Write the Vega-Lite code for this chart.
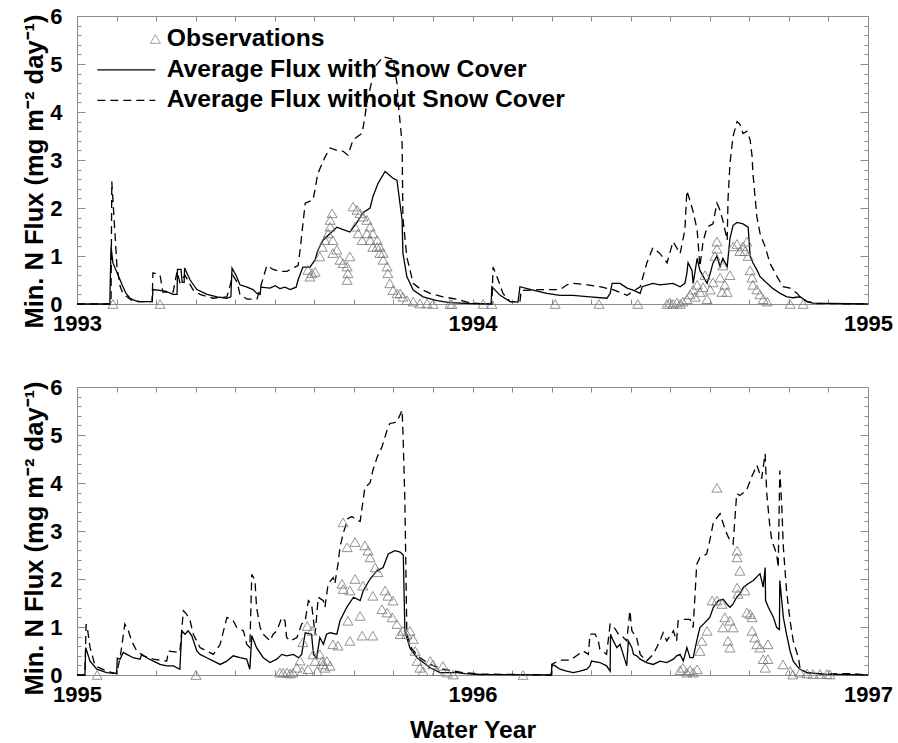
{
"$schema": "https://vega.github.io/schema/vega-lite/v6.json",
"background": "white",
"padding": {"left": 22, "top": 5, "right": 5, "bottom": 0},
"config": {
 "view": {"stroke": null},
 "font": "Liberation Sans",
 "axis": {"grid": false, "domainColor": "#8c8c8c", "tickColor": "#8c8c8c", "domainWidth": 1, "tickWidth": 1,
  "labelFont": "Liberation Sans", "labelFontWeight": "bold", "labelFontSize": 22, "labelColor": "black",
  "titleFont": "Liberation Sans", "titleFontWeight": "bold", "titleFontSize": 24.7, "titleColor": "black",
  "labelFlush": false, "labelOverlap": false, "tickCount": 100}
},
"datasets": {
 "top_with": [
  {"t":1993.000,"v":0},{"t":1993.083,"v":0},{"t":1993.086,"v":1.2},{"t":1993.091,"v":0.85},{"t":1993.104,"v":0.6},{"t":1993.114,"v":0.4},{"t":1993.124,"v":0.22},{"t":1993.134,"v":0.12},{"t":1993.147,"v":0.07},{"t":1993.159,"v":0.05},{"t":1993.190,"v":0.05},{"t":1993.192,"v":0.3},{"t":1993.223,"v":0.27},{"t":1993.243,"v":0.2},{"t":1993.253,"v":0.2},{"t":1993.254,"v":0.72},{"t":1993.263,"v":0.72},{"t":1993.266,"v":0.45},{"t":1993.271,"v":0.45},{"t":1993.272,"v":0.75},{"t":1993.286,"v":0.5},{"t":1993.303,"v":0.3},{"t":1993.329,"v":0.2},{"t":1993.354,"v":0.15},{"t":1993.379,"v":0.12},{"t":1993.389,"v":0.15},{"t":1993.392,"v":0.75},{"t":1993.402,"v":0.6},{"t":1993.412,"v":0.4},{"t":1993.430,"v":0.35},{"t":1993.445,"v":0.3},{"t":1993.455,"v":0.22},{"t":1993.463,"v":0.2},{"t":1993.465,"v":0.35},{"t":1993.488,"v":0.33},{"t":1993.501,"v":0.38},{"t":1993.513,"v":0.32},{"t":1993.526,"v":0.35},{"t":1993.539,"v":0.3},{"t":1993.554,"v":0.35},{"t":1993.559,"v":0.5},{"t":1993.571,"v":0.77},{"t":1993.589,"v":0.77},{"t":1993.602,"v":0.92},{"t":1993.609,"v":1.12},{"t":1993.622,"v":1.33},{"t":1993.640,"v":1.47},{"t":1993.657,"v":1.6},{"t":1993.673,"v":1.55},{"t":1993.690,"v":1.5},{"t":1993.708,"v":1.7},{"t":1993.723,"v":1.9},{"t":1993.741,"v":2.0},{"t":1993.748,"v":2.23},{"t":1993.761,"v":2.51},{"t":1993.779,"v":2.76},{"t":1993.799,"v":2.62},{"t":1993.809,"v":2.58},{"t":1993.822,"v":1.75},{"t":1993.824,"v":1.06},{"t":1993.834,"v":0.57},{"t":1993.850,"v":0.29},{"t":1993.875,"v":0.15},{"t":1993.910,"v":0.07},{"t":1993.943,"v":0.03},{"t":1993.994,"v":0.01},{"t":1994.047,"v":0},{"t":1994.049,"v":0.36},{"t":1994.070,"v":0.18},{"t":1994.095,"v":0.05},{"t":1994.115,"v":0.04},{"t":1994.120,"v":0.36},{"t":1994.153,"v":0.29},{"t":1994.188,"v":0.22},{"t":1994.221,"v":0.18},{"t":1994.254,"v":0.18},{"t":1994.297,"v":0.15},{"t":1994.340,"v":0.12},{"t":1994.348,"v":0.22},{"t":1994.353,"v":0.43},{"t":1994.373,"v":0.43},{"t":1994.391,"v":0.33},{"t":1994.406,"v":0.29},{"t":1994.424,"v":0.22},{"t":1994.429,"v":0.36},{"t":1994.456,"v":0.43},{"t":1994.474,"v":0.4},{"t":1994.507,"v":0.43},{"t":1994.525,"v":0.36},{"t":1994.537,"v":0.43},{"t":1994.542,"v":0.64},{"t":1994.545,"v":0.86},{"t":1994.555,"v":0.7},{"t":1994.558,"v":0.43},{"t":1994.568,"v":0.95},{"t":1994.575,"v":0.7},{"t":1994.593,"v":0.43},{"t":1994.601,"v":0.64},{"t":1994.608,"v":0.85},{"t":1994.618,"v":1.0},{"t":1994.626,"v":0.78},{"t":1994.633,"v":0.95},{"t":1994.644,"v":0.78},{"t":1994.651,"v":1.37},{"t":1994.659,"v":1.64},{"t":1994.669,"v":1.7},{"t":1994.684,"v":1.67},{"t":1994.697,"v":1.6},{"t":1994.702,"v":1.0},{"t":1994.709,"v":0.86},{"t":1994.719,"v":0.71},{"t":1994.727,"v":0.57},{"t":1994.745,"v":0.43},{"t":1994.760,"v":0.32},{"t":1994.778,"v":0.22},{"t":1994.795,"v":0.15},{"t":1994.810,"v":0.13},{"t":1994.828,"v":0.15},{"t":1994.846,"v":0.05},{"t":1994.861,"v":0.02},{"t":1995.000,"v":0}
 ],
 "top_without": [
  {"t":1993.000,"v":0},{"t":1993.086,"v":0},{"t":1993.088,"v":2.55},{"t":1993.096,"v":1.47},{"t":1993.101,"v":0.78},{"t":1993.109,"v":0.37},{"t":1993.116,"v":0.22},{"t":1993.126,"v":0.15},{"t":1993.142,"v":0.05},{"t":1993.190,"v":0.05},{"t":1993.192,"v":0.65},{"t":1993.210,"v":0.6},{"t":1993.217,"v":0.25},{"t":1993.243,"v":0.25},{"t":1993.253,"v":0.68},{"t":1993.260,"v":0.45},{"t":1993.273,"v":0.6},{"t":1993.293,"v":0.3},{"t":1993.311,"v":0.2},{"t":1993.344,"v":0.12},{"t":1993.379,"v":0.15},{"t":1993.394,"v":0.6},{"t":1993.405,"v":0.45},{"t":1993.412,"v":0.2},{"t":1993.430,"v":0.1},{"t":1993.455,"v":0.1},{"t":1993.480,"v":0.8},{"t":1993.496,"v":0.72},{"t":1993.513,"v":0.68},{"t":1993.531,"v":0.68},{"t":1993.546,"v":0.75},{"t":1993.559,"v":0.8},{"t":1993.564,"v":1.12},{"t":1993.569,"v":1.5},{"t":1993.577,"v":2.1},{"t":1993.597,"v":2.17},{"t":1993.609,"v":2.72},{"t":1993.627,"v":3.06},{"t":1993.640,"v":3.25},{"t":1993.657,"v":3.2},{"t":1993.673,"v":3.18},{"t":1993.685,"v":3.1},{"t":1993.698,"v":3.42},{"t":1993.721,"v":3.56},{"t":1993.728,"v":3.9},{"t":1993.733,"v":4.2},{"t":1993.754,"v":4.95},{"t":1993.774,"v":5.15},{"t":1993.799,"v":5.1},{"t":1993.809,"v":4.6},{"t":1993.812,"v":4.2},{"t":1993.822,"v":3.35},{"t":1993.824,"v":1.8},{"t":1993.834,"v":0.98},{"t":1993.850,"v":0.43},{"t":1993.867,"v":0.32},{"t":1993.893,"v":0.22},{"t":1993.925,"v":0.15},{"t":1993.961,"v":0.1},{"t":1993.994,"v":0.02},{"t":1994.049,"v":0},{"t":1994.052,"v":0.77},{"t":1994.065,"v":0.5},{"t":1994.077,"v":0.22},{"t":1994.095,"v":0.05},{"t":1994.120,"v":0.05},{"t":1994.123,"v":0.28},{"t":1994.171,"v":0.3},{"t":1994.221,"v":0.3},{"t":1994.239,"v":0.4},{"t":1994.254,"v":0.43},{"t":1994.290,"v":0.4},{"t":1994.322,"v":0.36},{"t":1994.355,"v":0.3},{"t":1994.391,"v":0.18},{"t":1994.424,"v":0.36},{"t":1994.441,"v":0.86},{"t":1994.456,"v":1.17},{"t":1994.474,"v":1.05},{"t":1994.492,"v":0.86},{"t":1994.507,"v":1.3},{"t":1994.525,"v":1.05},{"t":1994.537,"v":1.54},{"t":1994.542,"v":2.36},{"t":1994.550,"v":2.15},{"t":1994.558,"v":1.92},{"t":1994.568,"v":1.54},{"t":1994.575,"v":0.78},{"t":1994.583,"v":1.3},{"t":1994.593,"v":1.6},{"t":1994.608,"v":1.67},{"t":1994.618,"v":2.1},{"t":1994.626,"v":1.95},{"t":1994.633,"v":1.74},{"t":1994.644,"v":1.33},{"t":1994.646,"v":2.17},{"t":1994.651,"v":2.93},{"t":1994.659,"v":3.5},{"t":1994.669,"v":3.8},{"t":1994.676,"v":3.75},{"t":1994.684,"v":3.55},{"t":1994.694,"v":3.6},{"t":1994.702,"v":3.42},{"t":1994.707,"v":3.07},{"t":1994.709,"v":2.73},{"t":1994.719,"v":1.82},{"t":1994.727,"v":1.47},{"t":1994.740,"v":1.19},{"t":1994.752,"v":0.85},{"t":1994.770,"v":0.57},{"t":1994.785,"v":0.36},{"t":1994.803,"v":0.33},{"t":1994.821,"v":0.22},{"t":1994.828,"v":0.15},{"t":1994.846,"v":0.05},{"t":1994.871,"v":0.01},{"t":1995.000,"v":0}
 ],
 "top_obs": [
  {"t":1993.091,"v":0},{"t":1993.210,"v":0},{"t":1993.584,"v":0.71},{"t":1993.589,"v":0.57},{"t":1993.594,"v":0.64},{"t":1993.602,"v":0.67},{"t":1993.614,"v":0.99},{"t":1993.620,"v":1.19},{"t":1993.627,"v":1.33},{"t":1993.635,"v":1.47},{"t":1993.640,"v":1.75},{"t":1993.640,"v":1.61},{"t":1993.645,"v":1.89},{"t":1993.647,"v":1.33},{"t":1993.647,"v":1.06},{"t":1993.657,"v":1.13},{"t":1993.665,"v":0.92},{"t":1993.673,"v":0.85},{"t":1993.683,"v":0.78},{"t":1993.683,"v":0.5},{"t":1993.685,"v":0.64},{"t":1993.690,"v":0.99},{"t":1993.698,"v":2.03},{"t":1993.703,"v":1.61},{"t":1993.708,"v":1.96},{"t":1993.711,"v":1.47},{"t":1993.716,"v":1.89},{"t":1993.721,"v":1.33},{"t":1993.723,"v":1.82},{"t":1993.733,"v":1.75},{"t":1993.733,"v":1.47},{"t":1993.741,"v":1.61},{"t":1993.741,"v":1.33},{"t":1993.748,"v":1.47},{"t":1993.748,"v":1.19},{"t":1993.759,"v":1.33},{"t":1993.759,"v":1.19},{"t":1993.766,"v":1.19},{"t":1993.766,"v":1.06},{"t":1993.774,"v":1.06},{"t":1993.774,"v":0.92},{"t":1993.784,"v":0.78},{"t":1993.786,"v":0.64},{"t":1993.791,"v":0.43},{"t":1993.799,"v":0.29},{"t":1993.809,"v":0.22},{"t":1993.817,"v":0.22},{"t":1993.824,"v":0.15},{"t":1993.834,"v":0.08},{"t":1993.850,"v":0.05},{"t":1993.867,"v":0.01},{"t":1993.885,"v":0.01},{"t":1993.900,"v":0},{"t":1993.943,"v":0},
  {"t":1993.948,"v":0},{"t":1994.027,"v":0},{"t":1994.049,"v":0},{"t":1994.209,"v":0},{"t":1994.320,"v":0},{"t":1994.418,"v":0},{"t":1994.492,"v":0},{"t":1994.499,"v":0.03},{"t":1994.507,"v":0},{"t":1994.517,"v":0.03},{"t":1994.525,"v":0},{"t":1994.532,"v":0.05},{"t":1994.542,"v":0.1},{"t":1994.550,"v":0.2},{"t":1994.558,"v":0.3},{"t":1994.563,"v":0.15},{"t":1994.568,"v":0.4},{"t":1994.575,"v":0.25},{"t":1994.583,"v":0.35},{"t":1994.588,"v":0.6},{"t":1994.593,"v":0.1},{"t":1994.601,"v":0.3},{"t":1994.608,"v":0.45},{"t":1994.613,"v":1.0},{"t":1994.618,"v":1.3},{"t":1994.618,"v":1.15},{"t":1994.626,"v":0.55},{"t":1994.631,"v":0.25},{"t":1994.633,"v":0.8},{"t":1994.638,"v":0.4},{"t":1994.644,"v":0.25},{"t":1994.651,"v":0.6},{"t":1994.659,"v":1.2},{"t":1994.669,"v":1.25},{"t":1994.676,"v":1.1},{"t":1994.684,"v":1.2},{"t":1994.689,"v":1.1},{"t":1994.694,"v":1.3},{"t":1994.697,"v":1.0},{"t":1994.702,"v":0.7},{"t":1994.707,"v":0.55},{"t":1994.709,"v":0.4},{"t":1994.719,"v":0.3},{"t":1994.727,"v":0.2},{"t":1994.735,"v":0.1},{"t":1994.745,"v":0.05},{"t":1994.803,"v":0},{"t":1994.836,"v":0}
 ],
 "bot_with": [
  {"t":1995.000,"v":0},{"t":1995.020,"v":0},{"t":1995.022,"v":0.57},{"t":1995.033,"v":0.29},{"t":1995.050,"v":0.12},{"t":1995.075,"v":0.05},{"t":1995.100,"v":0.03},{"t":1995.102,"v":0.35},{"t":1995.109,"v":0.33},{"t":1995.117,"v":0.47},{"t":1995.126,"v":0.43},{"t":1995.142,"v":0.36},{"t":1995.159,"v":0.33},{"t":1995.164,"v":0.43},{"t":1995.176,"v":0.36},{"t":1995.193,"v":0.29},{"t":1995.210,"v":0.22},{"t":1995.227,"v":0.19},{"t":1995.244,"v":0.19},{"t":1995.260,"v":0.12},{"t":1995.265,"v":0.92},{"t":1995.273,"v":0.85},{"t":1995.281,"v":0.92},{"t":1995.290,"v":0.82},{"t":1995.303,"v":0.5},{"t":1995.311,"v":0.43},{"t":1995.328,"v":0.36},{"t":1995.345,"v":0.29},{"t":1995.362,"v":0.22},{"t":1995.379,"v":0.29},{"t":1995.395,"v":0.4},{"t":1995.412,"v":0.36},{"t":1995.429,"v":0.33},{"t":1995.437,"v":0.12},{"t":1995.442,"v":0.82},{"t":1995.454,"v":0.57},{"t":1995.471,"v":0.36},{"t":1995.488,"v":0.26},{"t":1995.505,"v":0.33},{"t":1995.518,"v":0.43},{"t":1995.530,"v":0.4},{"t":1995.547,"v":0.43},{"t":1995.560,"v":0.36},{"t":1995.568,"v":0.43},{"t":1995.577,"v":0.88},{"t":1995.593,"v":0.85},{"t":1995.598,"v":0.43},{"t":1995.606,"v":0.36},{"t":1995.614,"v":0.78},{"t":1995.623,"v":0.64},{"t":1995.631,"v":0.85},{"t":1995.640,"v":0.88},{"t":1995.657,"v":0.85},{"t":1995.665,"v":1.13},{"t":1995.682,"v":1.41},{"t":1995.699,"v":1.62},{"t":1995.716,"v":1.55},{"t":1995.724,"v":1.76},{"t":1995.741,"v":2.0},{"t":1995.758,"v":2.17},{"t":1995.774,"v":2.24},{"t":1995.787,"v":2.52},{"t":1995.804,"v":2.59},{"t":1995.817,"v":2.56},{"t":1995.825,"v":2.5},{"t":1995.829,"v":0.92},{"t":1995.842,"v":0.56},{"t":1995.860,"v":0.36},{"t":1995.893,"v":0.15},{"t":1995.918,"v":0.05},{"t":1995.961,"v":0.05},{"t":1995.981,"v":0.03},{"t":1996.019,"v":0.01},{"t":1996.199,"v":0},{"t":1996.201,"v":0.22},{"t":1996.209,"v":0.19},{"t":1996.221,"v":0.12},{"t":1996.238,"v":0.08},{"t":1996.255,"v":0.05},{"t":1996.272,"v":0.08},{"t":1996.289,"v":0.12},{"t":1996.297,"v":0.19},{"t":1996.301,"v":0.29},{"t":1996.322,"v":0.26},{"t":1996.339,"v":0.19},{"t":1996.348,"v":0.08},{"t":1996.349,"v":0.85},{"t":1996.356,"v":0.71},{"t":1996.365,"v":0.57},{"t":1996.373,"v":0.64},{"t":1996.381,"v":0.43},{"t":1996.390,"v":0.19},{"t":1996.394,"v":0.71},{"t":1996.403,"v":0.57},{"t":1996.407,"v":0.43},{"t":1996.415,"v":0.4},{"t":1996.424,"v":0.33},{"t":1996.440,"v":0.26},{"t":1996.457,"v":0.22},{"t":1996.474,"v":0.29},{"t":1996.491,"v":0.26},{"t":1996.508,"v":0.33},{"t":1996.516,"v":0.4},{"t":1996.525,"v":0.43},{"t":1996.533,"v":0.29},{"t":1996.542,"v":0.57},{"t":1996.550,"v":0.36},{"t":1996.558,"v":0.36},{"t":1996.567,"v":0.71},{"t":1996.575,"v":0.99},{"t":1996.584,"v":1.06},{"t":1996.592,"v":1.13},{"t":1996.600,"v":1.2},{"t":1996.609,"v":1.41},{"t":1996.622,"v":1.55},{"t":1996.634,"v":1.58},{"t":1996.643,"v":1.48},{"t":1996.651,"v":1.41},{"t":1996.659,"v":1.48},{"t":1996.668,"v":1.62},{"t":1996.676,"v":1.69},{"t":1996.685,"v":1.83},{"t":1996.697,"v":1.9},{"t":1996.710,"v":1.97},{"t":1996.723,"v":2.08},{"t":1996.727,"v":2.11},{"t":1996.735,"v":1.83},{"t":1996.740,"v":2.24},{"t":1996.741,"v":1.55},{"t":1996.748,"v":1.41},{"t":1996.761,"v":1.2},{"t":1996.769,"v":0.99},{"t":1996.776,"v":0.95},{"t":1996.777,"v":1.97},{"t":1996.782,"v":1.55},{"t":1996.786,"v":1.2},{"t":1996.794,"v":0.85},{"t":1996.803,"v":0.5},{"t":1996.811,"v":0.29},{"t":1996.820,"v":0.19},{"t":1996.828,"v":0.12},{"t":1996.845,"v":0.05},{"t":1996.887,"v":0.02},{"t":1997.000,"v":0}
 ],
 "bot_without": [
  {"t":1995.000,"v":0},{"t":1995.020,"v":0},{"t":1995.023,"v":1.06},{"t":1995.026,"v":0.99},{"t":1995.033,"v":0.57},{"t":1995.046,"v":0.19},{"t":1995.075,"v":0.08},{"t":1995.100,"v":0.03},{"t":1995.109,"v":0.36},{"t":1995.121,"v":1.06},{"t":1995.130,"v":0.92},{"t":1995.138,"v":0.71},{"t":1995.151,"v":0.5},{"t":1995.168,"v":0.4},{"t":1995.193,"v":0.33},{"t":1995.227,"v":0.29},{"t":1995.231,"v":0.5},{"t":1995.260,"v":0.47},{"t":1995.269,"v":1.34},{"t":1995.277,"v":1.27},{"t":1995.286,"v":1.13},{"t":1995.294,"v":0.85},{"t":1995.311,"v":0.57},{"t":1995.345,"v":0.43},{"t":1995.362,"v":0.64},{"t":1995.379,"v":1.2},{"t":1995.395,"v":1.13},{"t":1995.404,"v":0.99},{"t":1995.421,"v":0.92},{"t":1995.429,"v":0.64},{"t":1995.437,"v":0.57},{"t":1995.442,"v":2.1},{"t":1995.450,"v":1.97},{"t":1995.454,"v":1.41},{"t":1995.463,"v":0.99},{"t":1995.471,"v":0.85},{"t":1995.488,"v":0.71},{"t":1995.496,"v":0.85},{"t":1995.505,"v":0.92},{"t":1995.518,"v":1.2},{"t":1995.526,"v":1.13},{"t":1995.530,"v":0.78},{"t":1995.539,"v":0.71},{"t":1995.556,"v":0.78},{"t":1995.568,"v":1.06},{"t":1995.577,"v":1.13},{"t":1995.585,"v":1.55},{"t":1995.593,"v":1.48},{"t":1995.602,"v":0.85},{"t":1995.610,"v":1.62},{"t":1995.623,"v":1.55},{"t":1995.627,"v":1.41},{"t":1995.635,"v":1.9},{"t":1995.648,"v":2.03},{"t":1995.652,"v":1.9},{"t":1995.660,"v":2.32},{"t":1995.665,"v":2.66},{"t":1995.673,"v":2.95},{"t":1995.685,"v":3.26},{"t":1995.695,"v":3.3},{"t":1995.708,"v":3.22},{"t":1995.716,"v":3.2},{"t":1995.721,"v":3.5},{"t":1995.728,"v":3.91},{"t":1995.741,"v":4.0},{"t":1995.748,"v":4.26},{"t":1995.759,"v":4.54},{"t":1995.771,"v":4.75},{"t":1995.784,"v":5.1},{"t":1995.791,"v":5.24},{"t":1995.809,"v":5.27},{"t":1995.822,"v":5.52},{"t":1995.824,"v":5.1},{"t":1995.829,"v":3.64},{"t":1995.832,"v":1.97},{"t":1995.834,"v":0.85},{"t":1995.847,"v":0.54},{"t":1995.867,"v":0.36},{"t":1995.893,"v":0.22},{"t":1995.925,"v":0.12},{"t":1995.976,"v":0.05},{"t":1996.019,"v":0.02},{"t":1996.199,"v":0},{"t":1996.201,"v":0.22},{"t":1996.209,"v":0.26},{"t":1996.221,"v":0.31},{"t":1996.247,"v":0.31},{"t":1996.263,"v":0.4},{"t":1996.280,"v":0.5},{"t":1996.293,"v":0.43},{"t":1996.297,"v":0.85},{"t":1996.310,"v":0.85},{"t":1996.318,"v":0.71},{"t":1996.322,"v":0.54},{"t":1996.339,"v":0.43},{"t":1996.348,"v":1.06},{"t":1996.356,"v":1.02},{"t":1996.369,"v":0.85},{"t":1996.377,"v":0.82},{"t":1996.390,"v":0.71},{"t":1996.398,"v":1.34},{"t":1996.403,"v":0.92},{"t":1996.415,"v":0.78},{"t":1996.424,"v":0.43},{"t":1996.440,"v":0.29},{"t":1996.457,"v":0.43},{"t":1996.474,"v":0.71},{"t":1996.482,"v":0.88},{"t":1996.491,"v":0.71},{"t":1996.508,"v":0.92},{"t":1996.516,"v":0.71},{"t":1996.520,"v":1.13},{"t":1996.533,"v":1.16},{"t":1996.550,"v":1.16},{"t":1996.558,"v":0.99},{"t":1996.567,"v":2.31},{"t":1996.575,"v":2.45},{"t":1996.592,"v":2.52},{"t":1996.600,"v":2.8},{"t":1996.609,"v":3.18},{"t":1996.626,"v":3.36},{"t":1996.634,"v":3.15},{"t":1996.643,"v":2.94},{"t":1996.651,"v":2.8},{"t":1996.659,"v":2.73},{"t":1996.668,"v":3.78},{"t":1996.676,"v":3.74},{"t":1996.693,"v":3.85},{"t":1996.706,"v":4.13},{"t":1996.719,"v":4.37},{"t":1996.731,"v":4.09},{"t":1996.740,"v":4.61},{"t":1996.744,"v":3.78},{"t":1996.752,"v":3.08},{"t":1996.757,"v":2.8},{"t":1996.769,"v":2.52},{"t":1996.773,"v":2.24},{"t":1996.777,"v":4.26},{"t":1996.782,"v":3.5},{"t":1996.786,"v":2.66},{"t":1996.794,"v":1.76},{"t":1996.803,"v":1.13},{"t":1996.811,"v":0.71},{"t":1996.824,"v":0.36},{"t":1996.828,"v":0.15},{"t":1996.845,"v":0.05},{"t":1996.887,"v":0.02},{"t":1996.955,"v":0.03},{"t":1997.000,"v":0}
 ],
 "bot_obs": [
  {"t":1995.051,"v":0},{"t":1995.301,"v":0},{"t":1995.513,"v":0.05},{"t":1995.521,"v":0.05},{"t":1995.531,"v":0.05},{"t":1995.539,"v":0.03},{"t":1995.546,"v":0.05},{"t":1995.556,"v":0.15},{"t":1995.564,"v":0.3},{"t":1995.569,"v":0.08},{"t":1995.571,"v":0.68},{"t":1995.582,"v":1.02},{"t":1995.584,"v":0.12},{"t":1995.594,"v":0.92},{"t":1995.597,"v":0.43},{"t":1995.602,"v":0.29},{"t":1995.607,"v":0.08},{"t":1995.614,"v":0.43},{"t":1995.620,"v":0.29},{"t":1995.622,"v":0.22},{"t":1995.627,"v":0.15},{"t":1995.632,"v":0.29},{"t":1995.640,"v":0.19},{"t":1995.647,"v":0.64},{"t":1995.660,"v":0.61},{"t":1995.670,"v":1.9},{"t":1995.673,"v":3.18},{"t":1995.673,"v":1.79},{"t":1995.683,"v":2.66},{"t":1995.685,"v":1.13},{"t":1995.690,"v":1.76},{"t":1995.690,"v":0.71},{"t":1995.703,"v":2.77},{"t":1995.703,"v":2.0},{"t":1995.716,"v":1.23},{"t":1995.721,"v":0.82},{"t":1995.723,"v":1.86},{"t":1995.728,"v":2.7},{"t":1995.736,"v":2.59},{"t":1995.741,"v":2.45},{"t":1995.748,"v":1.65},{"t":1995.748,"v":0.82},{"t":1995.754,"v":2.24},{"t":1995.761,"v":2.14},{"t":1995.771,"v":1.37},{"t":1995.779,"v":1.76},{"t":1995.784,"v":1.3},{"t":1995.786,"v":1.65},{"t":1995.797,"v":1.2},{"t":1995.799,"v":1.55},{"t":1995.809,"v":1.06},{"t":1995.817,"v":0.85},{"t":1995.824,"v":0.92},{"t":1995.834,"v":0.85},{"t":1995.842,"v":0.92},{"t":1995.850,"v":0.75},{"t":1995.855,"v":0.5},{"t":1995.860,"v":0.29},{"t":1995.867,"v":0.15},{"t":1995.875,"v":0.08},{"t":1995.893,"v":0.29},{"t":1995.900,"v":0.22},{"t":1995.910,"v":0.08},{"t":1995.925,"v":0.19},{"t":1995.936,"v":0.05},{"t":1995.951,"v":0.01},
  {"t":1996.128,"v":0},{"t":1996.525,"v":0.1},{"t":1996.532,"v":0.15},{"t":1996.542,"v":0.05},{"t":1996.550,"v":0.1},{"t":1996.558,"v":0.05},{"t":1996.568,"v":0.12},{"t":1996.575,"v":0.5},{"t":1996.580,"v":0.71},{"t":1996.593,"v":0.92},{"t":1996.606,"v":1.55},{"t":1996.618,"v":3.9},{"t":1996.618,"v":1.55},{"t":1996.631,"v":1.48},{"t":1996.633,"v":0.99},{"t":1996.638,"v":1.2},{"t":1996.646,"v":0.71},{"t":1996.651,"v":1.13},{"t":1996.651,"v":0.57},{"t":1996.659,"v":0.99},{"t":1996.669,"v":2.59},{"t":1996.669,"v":2.45},{"t":1996.669,"v":1.82},{"t":1996.671,"v":1.69},{"t":1996.676,"v":2.17},{"t":1996.689,"v":1.76},{"t":1996.694,"v":1.3},{"t":1996.702,"v":1.27},{"t":1996.707,"v":1.2},{"t":1996.707,"v":0.92},{"t":1996.714,"v":0.78},{"t":1996.719,"v":0.64},{"t":1996.727,"v":0.57},{"t":1996.735,"v":0.33},{"t":1996.740,"v":0.15},{"t":1996.747,"v":0.64},{"t":1996.747,"v":0.33},{"t":1996.785,"v":0.22},{"t":1996.803,"v":0.08},{"t":1996.810,"v":0.01},{"t":1996.828,"v":0.05},{"t":1996.846,"v":0.03},{"t":1996.861,"v":0.02},{"t":1996.879,"v":0.02},{"t":1996.896,"v":0.02},{"t":1996.904,"v":0.01}
 ]
},
"spacing": 42,
"resolve": {"scale": {"x": "independent", "y": "independent", "color": "independent"}, "legend": {"color": "independent"}},
"vconcat": [
 {
  "width": 791, "height": 288,
  "resolve": {"axis": {"x": "independent", "y": "independent"}},
  "layer": [
   {"data": {"name": "top_with"},
    "mark": {"type": "line", "strokeWidth": 1.3},
    "encoding": {
     "x": {"field": "t", "type": "quantitative", "scale": {"domain": [1993, 1995], "nice": false, "zero": false},
      "axis": {"orient": "bottom", "title": null, "values": [1993, 1995], "format": "d", "tickSize": -5, "labelPadding": 14}},
     "y": {"field": "v", "type": "quantitative", "scale": {"domain": [0, 6], "nice": false},
      "axis": {"orient": "left", "title": "Min. N Flux (mg m⁻² day⁻¹)", "titleFontSize": 25.5, "titlePadding": 2, "titleY": 155, "values": [0, 1, 2, 3, 4, 5, 6], "format": "d", "tickSize": -8, "labelPadding": 23}},
     "color": {"datum": "Average Flux with Snow Cover", "type": "nominal",
      "scale": {"domain": ["Observations", "Average Flux with Snow Cover", "Average Flux without Snow Cover"], "range": ["#777777", "black", "black"]},
      "legend": {"orient": "none", "legendX": 37, "legendY": 11, "title": null, "direction": "vertical", "padding": 0,
       "labelFont": "Liberation Sans", "labelFontWeight": "bold", "labelFontSize": 24.7, "labelColor": "black", "labelLimit": 1000,
       "symbolSize": 400, "labelOffset": 28, "rowPadding": 4.5,
       "encode": {"symbols": {"update": {
        "shape": {"signal": "datum.value === 'Observations' ? 'M2.9,-0.46L3.4,0.4L2.4,0.4Z' : 'M-2.9,0L2.9,0'"},
        "stroke": {"signal": "datum.value === 'Observations' ? '#777777' : 'black'"},
        "strokeWidth": {"signal": "datum.value === 'Observations' ? 0.8 : 1.3"},
        "strokeDash": {"signal": "datum.value === 'Average Flux without Snow Cover' ? [8,5] : [1,0]"},
        "fill": {"value": "transparent"},
        "size": {"value": 400},
        "opacity": {"value": 1}
       }}}}}
    }},
   {"data": {"name": "top_without"},
    "mark": {"type": "line", "strokeWidth": 1.3, "strokeDash": [8, 5]},
    "encoding": {
     "x": {"field": "t", "type": "quantitative", "scale": {"domain": [1993, 1995], "nice": false, "zero": false},
      "axis": {"orient": "top", "title": null, "labels": false, "values": [1993,1993.1,1993.2,1993.3,1993.4,1993.5,1993.6,1993.7,1993.8,1993.9,1994,1994.1,1994.2,1994.3,1994.4,1994.5,1994.6,1994.7,1994.8,1994.9,1995], "tickSize": -5}},
     "y": {"field": "v", "type": "quantitative", "scale": {"domain": [0, 6], "nice": false},
      "axis": {"orient": "right", "title": null, "labels": false, "values": [0,0.2,0.4,0.6,0.8,1,1.2,1.4,1.6,1.8,2,2.2,2.4,2.6,2.8,3,3.2,3.4,3.6,3.8,4,4.2,4.4,4.6,4.8,5,5.2,5.4,5.6,5.8,6], "tickSize": {"condition": {"test": "datum.value % 1 === 0", "value": -8}, "value": -4}}},
     "color": {"datum": "Average Flux without Snow Cover", "type": "nominal"}
    }},
   {"data": {"name": "top_obs"},
    "mark": {"type": "point", "shape": "triangle-up", "filled": false, "size": 100, "strokeWidth": 0.8, "opacity": 1},
    "encoding": {
     "x": {"field": "t", "type": "quantitative", "axis": {"orient": "bottom", "title": null, "domain": false, "values": [1994], "format": "d", "tickSize": -5, "labelPadding": 14}},
     "y": {"field": "v", "type": "quantitative", "axis": {"orient": "left", "title": null, "labels": false, "domain": false, "values": [0.2,0.4,0.6,0.8,1.2,1.4,1.6,1.8,2.2,2.4,2.6,2.8,3.2,3.4,3.6,3.8,4.2,4.4,4.6,4.8,5.2,5.4,5.6,5.8], "tickSize": -4}},
     "color": {"datum": "Observations", "type": "nominal"}
    }},
   {"data": {"name": "top_obs"},
    "mark": {"type": "point", "shape": "triangle-up", "filled": false, "size": 100, "opacity": 0},
    "encoding": {
     "x": {"field": "t", "type": "quantitative", "axis": {"orient": "bottom", "title": null, "labels": false, "domain": false, "values": [1993.1,1993.2,1993.3,1993.4,1993.5,1993.6,1993.7,1993.8,1993.9,1994.1,1994.2,1994.3,1994.4,1994.5,1994.6,1994.7,1994.8,1994.9], "tickSize": -5}},
     "y": {"field": "v", "type": "quantitative", "axis": null}
    }}
  ]
 },
 {
  "width": 791, "height": 288,
  "resolve": {"axis": {"x": "independent", "y": "independent"}},
  "layer": [
   {"data": {"name": "bot_with"},
    "mark": {"type": "line", "strokeWidth": 1.3, "color": "black"},
    "encoding": {
     "x": {"field": "t", "type": "quantitative", "scale": {"domain": [1995, 1997], "nice": false, "zero": false},
      "axis": {"orient": "bottom", "title": "Water Year", "titlePadding": 12, "values": [1995, 1997], "format": "d", "tickSize": -5, "labelPadding": 14}},
     "y": {"field": "v", "type": "quantitative", "scale": {"domain": [0, 6], "nice": false},
      "axis": {"orient": "left", "title": "Min. N Flux (mg m⁻² day⁻¹)", "titleFontSize": 25.5, "titlePadding": 2, "titleY": 151, "values": [0, 1, 2, 3, 4, 5, 6], "format": "d", "tickSize": -8, "labelPadding": 23}}
    }},
   {"data": {"name": "bot_without"},
    "mark": {"type": "line", "strokeWidth": 1.3, "strokeDash": [8, 5], "color": "black"},
    "encoding": {
     "x": {"field": "t", "type": "quantitative", "scale": {"domain": [1995, 1997], "nice": false, "zero": false},
      "axis": {"orient": "top", "title": null, "labels": false, "values": [1995,1995.1,1995.2,1995.3,1995.4,1995.5,1995.6,1995.7,1995.8,1995.9,1996,1996.1,1996.2,1996.3,1996.4,1996.5,1996.6,1996.7,1996.8,1996.9,1997], "tickSize": -5}},
     "y": {"field": "v", "type": "quantitative", "scale": {"domain": [0, 6], "nice": false},
      "axis": {"orient": "right", "title": null, "labels": false, "values": [0,0.2,0.4,0.6,0.8,1,1.2,1.4,1.6,1.8,2,2.2,2.4,2.6,2.8,3,3.2,3.4,3.6,3.8,4,4.2,4.4,4.6,4.8,5,5.2,5.4,5.6,5.8,6], "tickSize": {"condition": {"test": "datum.value % 1 === 0", "value": -8}, "value": -4}}}
    }},
   {"data": {"name": "bot_obs"},
    "mark": {"type": "point", "shape": "triangle-up", "filled": false, "size": 100, "strokeWidth": 0.8, "opacity": 1, "color": "#777777"},
    "encoding": {
     "x": {"field": "t", "type": "quantitative", "axis": {"orient": "bottom", "title": null, "domain": false, "values": [1996], "format": "d", "tickSize": -5, "labelPadding": 14}},
     "y": {"field": "v", "type": "quantitative", "axis": {"orient": "left", "title": null, "labels": false, "domain": false, "values": [0.2,0.4,0.6,0.8,1.2,1.4,1.6,1.8,2.2,2.4,2.6,2.8,3.2,3.4,3.6,3.8,4.2,4.4,4.6,4.8,5.2,5.4,5.6,5.8], "tickSize": -4}}
    }},
   {"data": {"name": "bot_obs"},
    "mark": {"type": "point", "shape": "triangle-up", "filled": false, "size": 100, "opacity": 0},
    "encoding": {
     "x": {"field": "t", "type": "quantitative", "axis": {"orient": "bottom", "title": null, "labels": false, "domain": false, "values": [1995.1,1995.2,1995.3,1995.4,1995.5,1995.6,1995.7,1995.8,1995.9,1996.1,1996.2,1996.3,1996.4,1996.5,1996.6,1996.7,1996.8,1996.9], "tickSize": -5}},
     "y": {"field": "v", "type": "quantitative", "axis": null}
    }}
  ]
 }
]
}
